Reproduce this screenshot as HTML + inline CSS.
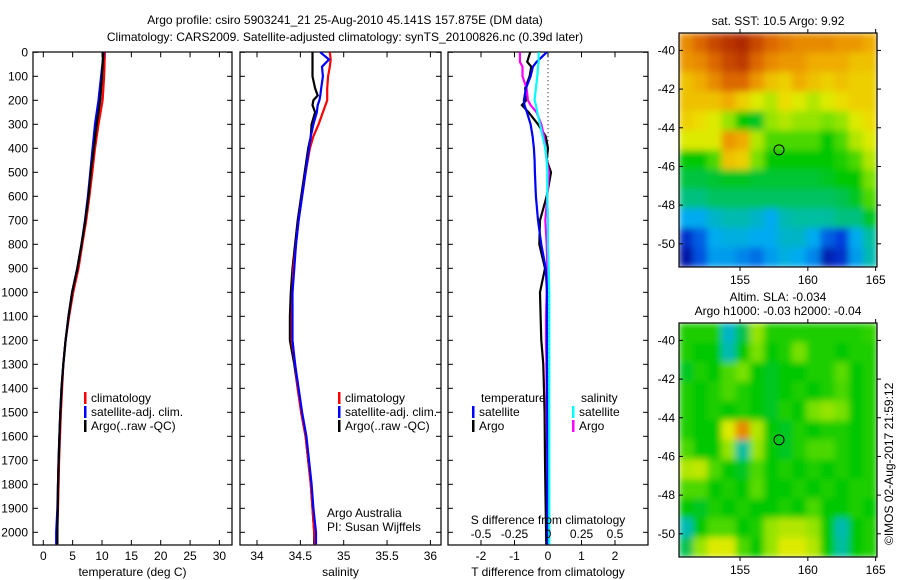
<!DOCTYPE html>
<html><head><meta charset="utf-8"><style>
body{margin:0;background:#fff;}
svg{display:block;font-family:"Liberation Sans",sans-serif;font-size:12px;}
</style></head><body>
<svg id="c" width="900" height="580" viewBox="0 0 900 580">
<defs>
<filter id="blur" x="0" y="0" width="1" height="1"><feGaussianBlur stdDeviation="3.5" edgeMode="duplicate"/></filter>
<clipPath id="clip1"><rect x="679" y="33" width="198" height="234"/></clipPath>
<clipPath id="clip2"><rect x="679" y="323" width="198" height="234"/></clipPath>
</defs>
<text x="345" y="24" text-anchor="middle">Argo profile: csiro 5903241_21 25-Aug-2010 45.141S 157.875E (DM data)</text>
<text x="345" y="41" text-anchor="middle">Climatology: CARS2009. Satellite-adjusted climatology: synTS_20100826.nc (0.39d later)</text>
<g id="g"></g>
</svg>
<script>
// ---- data ----
const depths = [0,100,200,300,400,500,600,700,800,900,1000,1100,1200,1300,1400,1500,1600,1700,1800,1900,2000,2050];
const tempClim = [10.5,10.35,10.1,9.4,8.8,8.35,7.85,7.3,6.65,6.0,5.1,4.4,3.8,3.4,3.2,3.0,2.85,2.7,2.6,2.5,2.35,2.3];
const tempSat  = [10.3,9.85,9.4,8.8,8.4,8.0,7.6,7.1,6.5,5.8,4.9,4.3,3.8,3.4,3.1,2.9,2.75,2.6,2.5,2.4,2.2,2.2];
const tempArgo = [10.2,10.0,9.7,9.1,8.6,8.1,7.7,7.15,6.5,5.8,4.9,4.3,3.8,3.4,3.1,2.9,2.75,2.6,2.5,2.45,2.4,2.4];
const salDepths = [0,30,60,100,150,180,200,220,250,300,350,400,500,600,700,800,900,1000,1100,1200,1300,1400,1500,1600,1700,1800,1900,2000,2050];
const salClim = [34.84,34.85,34.84,34.82,34.81,34.81,34.81,34.79,34.76,34.71,34.65,34.61,34.56,34.52,34.48,34.45,34.42,34.41,34.40,34.40,34.44,34.47,34.51,34.56,34.59,34.62,34.64,34.66,34.67];
const salSat  = [34.73,34.83,34.75,34.76,34.74,34.73,34.72,34.70,34.69,34.65,34.62,34.60,34.56,34.52,34.48,34.45,34.43,34.41,34.41,34.41,34.44,34.48,34.52,34.57,34.60,34.63,34.65,34.68,34.68];
const salArgo = [34.64,34.64,34.64,34.64,34.67,34.70,34.65,34.64,34.67,34.63,34.62,34.59,34.55,34.51,34.47,34.44,34.41,34.39,34.38,34.38,34.43,34.47,34.51,34.56,34.59,34.62,34.64,34.66,34.66];
const dDepths = [0,40,60,100,150,200,220,250,300,350,400,450,500,600,700,800,900,1000,1100,1200,1300,1500,1700,1900,2050];
const dTsat  = [-0.04,-0.34,-0.45,-0.52,-0.66,-0.72,-0.70,-0.63,-0.52,-0.46,-0.42,-0.40,-0.39,-0.36,-0.30,-0.20,-0.07,-0.03,-0.03,-0.03,-0.03,-0.02,-0.02,-0.02,-0.01];
const dTargo = [-0.53,-0.62,-0.50,-0.55,-0.68,-0.65,-0.78,-0.58,-0.30,-0.07,0.0,-0.04,0.09,-0.04,-0.24,-0.26,-0.09,-0.24,-0.22,-0.20,-0.14,-0.10,-0.09,-0.07,-0.05];
const dSargo = [-0.21,-0.21,-0.19,-0.19,-0.16,-0.15,-0.13,-0.085,-0.05,-0.03,-0.02,-0.01,0.007,-0.005,-0.02,-0.01,-0.005,-0.01,-0.015,-0.015,-0.012,-0.01,-0.005,0.0,0.0];
const dSsat  = [-0.07,-0.07,-0.075,-0.08,-0.09,-0.10,-0.09,-0.08,-0.06,-0.04,-0.02,-0.01,-0.005,-0.005,0.0,0.0,0.005,0.01,0.01,0.01,0.01,0.01,0.01,0.01,0.01];
const depthTicks = [0,100,200,300,400,500,600,700,800,900,1000,1100,1200,1300,1400,1500,1600,1700,1800,1900,2000];
const tTicks = [0,5,10,15,20,25,30];
const sTicks = [34,34.5,35,35.5,36];
const dtTicks = [-2,-1,0,1,2];
const dsTicks = [-0.5,-0.25,0,0.25,0.5];
const dsTickLabels = ["-0.5","-0.25","0","0.25","0.5"];
const latTicks = [-40,-42,-44,-46,-48,-50];
const lonTicks = [155,160,165];
const sstGrid = [
[.8,.85,.9,.93,.95,.9,.85,.82,.8,.8,.8,.78,.78,.75],
[.78,.8,.85,.9,.92,.85,.8,.78,.78,.75,.75,.75,.72,.72],
[.72,.75,.8,.85,.85,.78,.72,.7,.75,.72,.7,.72,.7,.7],
[.72,.72,.72,.75,.7,.65,.62,.68,.65,.62,.65,.68,.7,.7],
[.7,.68,.65,.6,.5,.48,.6,.62,.6,.6,.58,.6,.65,.68],
[.65,.65,.65,.78,.75,.62,.55,.55,.55,.55,.5,.55,.62,.65],
[.5,.5,.55,.72,.7,.58,.5,.5,.5,.5,.5,.52,.55,.62],
[.46,.46,.47,.48,.48,.47,.47,.47,.47,.47,.48,.5,.5,.58],
[.42,.42,.44,.44,.44,.44,.44,.44,.44,.44,.44,.45,.48,.55],
[.3,.3,.35,.38,.38,.35,.3,.38,.4,.4,.4,.42,.42,.48],
[.12,.2,.3,.32,.32,.3,.3,.35,.35,.3,.2,.15,.3,.4],
[.06,.18,.28,.28,.25,.22,.28,.32,.3,.25,.08,.12,.28,.38]];
const slaGrid = [
[.52,.52,.52,.35,.45,.6,.52,.52,.52,.52,.52,.52,.52,.53],
[.52,.5,.5,.38,.5,.58,.5,.52,.58,.52,.52,.5,.52,.52],
[.48,.52,.5,.55,.58,.5,.48,.5,.5,.52,.52,.56,.5,.52],
[.52,.5,.52,.55,.52,.5,.48,.5,.52,.5,.52,.55,.5,.52],
[.52,.5,.52,.5,.52,.5,.48,.52,.5,.58,.6,.58,.5,.52],
[.52,.5,.5,.65,.8,.62,.5,.48,.52,.5,.52,.52,.5,.52],
[.55,.5,.5,.6,.4,.6,.5,.48,.52,.55,.55,.52,.5,.52],
[.62,.63,.55,.5,.48,.55,.5,.52,.5,.52,.5,.52,.5,.52],
[.55,.55,.5,.52,.5,.56,.5,.5,.52,.5,.52,.5,.52,.52],
[.5,.48,.52,.5,.52,.5,.5,.52,.5,.55,.5,.5,.52,.5],
[.38,.5,.55,.55,.5,.52,.6,.62,.62,.6,.5,.38,.5,.52],
[.45,.6,.65,.65,.55,.5,.6,.65,.65,.62,.5,.4,.5,.52]];
const argoLon = 157.875, argoLat = -45.141;

// ---- helpers ----
const NS="http://www.w3.org/2000/svg";
const G=document.getElementById('g');
function mk(t,a,p){const e=document.createElementNS(NS,t);for(const k in a)e.setAttribute(k,a[k]);(p||G).appendChild(e);return e;}
const Y0=52.3, YB=545, yOf=d=>Y0+d*0.24;

function panel(name,x0,x1,xOf,ticks,labels,xlabel){
  const box=mk('rect',{x:x0,y:Y0-0.3,width:x1-x0,height:YB-Y0+0.3,fill:'none',stroke:'#000','stroke-width':1.2});
  
  
  depthTicks.forEach(d=>{const y=yOf(d);
    mk('line',{x1:x0,x2:x0+5,y1:y,y2:y,stroke:'#000'});mk('line',{x1:x1,x2:x1-5,y1:y,y2:y,stroke:'#000'});});
  ticks.forEach((v,i)=>{const x=xOf(v);
    mk('line',{x1:x,x2:x,y1:Y0,y2:Y0+5,stroke:'#000'});mk('line',{x1:x,x2:x,y1:YB,y2:YB-5,stroke:'#000'});
    if(labels){const t=mk('text',{x:x,y:YB+15,'text-anchor':'middle'});t.textContent=labels[i];
      
      }});
  const t=mk('text',{x:(x0+x1)/2,y:YB+31,'text-anchor':'middle'});t.textContent=xlabel;
  
  
}
function line(name,ds,vs,xOf,col){
  const pts=ds.map((d,i)=>xOf(vs[i]).toFixed(1)+','+yOf(d).toFixed(1)).join(' ');
  const p=mk('polyline',{points:pts,fill:'none',stroke:col,'stroke-width':2.2});
  
  
}
function legend(x,y,items,name){
  items.forEach((it,i)=>{
    mk('rect',{x:x,y:y+i*14-10,width:2.5,height:12,fill:it[1]});
    const t=mk('text',{x:x+7,y:y+i*14});t.textContent=it[0];
    
    });
}

// y labels
depthTicks.forEach(d=>{const t=mk('text',{x:28,y:yOf(d)+4,'text-anchor':'end'});t.textContent=d;
  
  });

// Panel 1 temperature
const xT=v=>43.3+v*5.87;
panel('temperature-panel',33,232,xT,tTicks,tTicks.map(String),'temperature (deg C)');
line('temp-climatology-line',depths,tempClim,xT,'#f00');
line('temp-satellite-line',depths,tempSat,xT,'#00f');
line('temp-argo-line',depths,tempArgo,xT,'#000');
legend(84,402,[['climatology','#f00'],['satellite-adj. clim.','#00f'],['Argo(..raw -QC)','#000']],'temp-legend');

// Panel 2 salinity
const xS=v=>257+(v-34)*86.7;
panel('salinity-panel',240,441,xS,sTicks,sTicks.map(String),'salinity');
line('sal-argo-line',salDepths,salArgo,xS,'#000');
line('sal-climatology-line',salDepths,salClim,xS,'#f00');
line('sal-satellite-line',salDepths,salSat,xS,'#00f');
legend(338,402,[['climatology','#f00'],['satellite-adj. clim.','#00f'],['Argo(..raw -QC)','#000']],'sal-legend');
let t1=mk('text',{x:327,y:517});t1.textContent='Argo Australia';


t1=mk('text',{x:327,y:531});t1.textContent='PI: Susan Wijffels';



// Panel 3 differences
const xDT=v=>548+v*33.5, xDS=v=>548+v*134;
panel('difference-panel',448,648,xDT,dtTicks,dtTicks.map(String),'T difference from climatology');
mk('line',{x1:548,x2:548,y1:Y0,y2:YB,stroke:'#000','stroke-dasharray':'1,3'});
line('dT-argo-line',dDepths,dTargo,xDT,'#000');
line('dS-argo-line',dDepths,dSargo,xDS,'#f0f');
line('dT-satellite-line',dDepths,dTsat,xDT,'#00f');
line('dS-satellite-line',dDepths,dSsat,xDS,'#0ff');
dsTicks.forEach((v,i)=>{const t=mk('text',{x:xDS(v),y:538,'text-anchor':'middle'});t.textContent=dsTickLabels[i];
  
  });
t1=mk('text',{x:548,y:524,'text-anchor':'middle'});t1.textContent='S difference from climatology';


t1=mk('text',{x:481,y:402});t1.textContent='temperature';


t1=mk('text',{x:581,y:402});t1.textContent='salinity';


legend(472,416,[['satellite','#00f'],['Argo','#000']],'diff-temp-legend');
legend(572,416,[['satellite','#0ff'],['Argo','#f0f']],'diff-sal-legend');

// Maps
const cmapStops=[[0,[0,0,130]],[0.15,[0,60,220]],[0.3,[0,170,240]],[0.4,[0,190,160]],[0.5,[0,200,0]],[0.58,[120,225,0]],[0.66,[235,235,0]],[0.76,[240,165,0]],[0.87,[215,90,0]],[1,[150,10,0]]];
function cmap(v){v=Math.max(0,Math.min(1,v));
  for(let i=1;i<cmapStops.length;i++){const a=cmapStops[i-1],b=cmapStops[i];
    if(v<=b[0]){const f=(v-a[0])/(b[0]-a[0]);const c=a[1].map((x,k)=>Math.round(x+(b[1][k]-x)*f));return `rgb(${c[0]},${c[1]},${c[2]})`;}}
  return 'rgb(150,10,0)';}
const MX0=679,MX1=877,LON0=150.5,LON1=165.1;
const lonX=l=>MX0+(l-LON0)*(MX1-MX0)/(LON1-LON0);
function map(name,top,grid,title,clip){
  const bot=top+234, LAT0=-39.1, LAT1=-51.2;
  const latY=l=>top+(l-LAT0)*(bot-top)/(LAT1-LAT0);
  const rows=grid.length, cols=grid[0].length, dl=(LON1-LON0)/cols, dla=(LAT0-LAT1)/rows;
  const cg=mk('g',{'clip-path':'url(#'+clip+')'});
  const bg=mk('g',{filter:'url(#blur)'},cg);
  grid.forEach((row,r)=>row.forEach((v,c)=>{
    const x=lonX(LON0+c*dl), y=latY(LAT0-r*dla);
    const e=mk('rect',{x:x.toFixed(1),y:y.toFixed(1),width:(lonX(LON0+(c+1)*dl)-x+0.6).toFixed(1),height:(latY(LAT0-(r+1)*dla)-y+0.6).toFixed(1),fill:cmap(v)},bg);
    
    }));
  const f=mk('rect',{x:MX0,y:top,width:MX1-MX0,height:bot-top,fill:'none',stroke:'#000','stroke-width':1.2});
  
  
  latTicks.forEach(l=>{const y=latY(l);
    mk('line',{x1:MX0,x2:MX0+4,y1:y,y2:y,stroke:'#000'});mk('line',{x1:MX1,x2:MX1+4,y1:y,y2:y,stroke:'#000'});
    const t=mk('text',{x:MX0-4,y:y+4,'text-anchor':'end'});t.textContent=l;
    
    });
  lonTicks.forEach(l=>{const x=lonX(l);
    mk('line',{x1:x,x2:x,y1:top,y2:top-4,stroke:'#000'});mk('line',{x1:x,x2:x,y1:bot,y2:bot+4,stroke:'#000'});
    const t=mk('text',{x:x,y:bot+17,'text-anchor':'middle'});t.textContent=l;
    
    });
  const c=mk('circle',{cx:lonX(argoLon),cy:latY(argoLat),r:5,fill:'none',stroke:'#000'});
  
  
  title.forEach((s,i)=>{const t=mk('text',{x:778,y:top-22+i*14+ (title.length==1?14:0),'text-anchor':'middle'});t.textContent=s;
    
    });
}
map('sst-map',33,sstGrid,['sat. SST: 10.5 Argo: 9.92'],'clip1');
map('sla-map',323,slaGrid,['Altim. SLA: -0.034','Argo h1000: -0.03 h2000: -0.04'],'clip2');
const cr=mk('text',{x:893,y:545,transform:'rotate(-90 893 545)'});cr.textContent='©IMOS 02-Aug-2017 21:59:12';


</script>
</body></html>
